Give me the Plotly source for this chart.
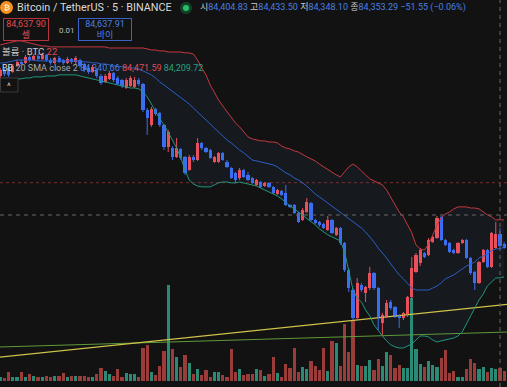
import plotly.graph_objects as go

W, H = 507, 387
FONT = "Roboto, 'Noto Sans CJK KR', sans-serif"

# ---------------- data ----------------
idx = list(range(121))

opens = [
    85118, 85145, 85154, 85136, 85163, 85181, 85177, 85204, 85190, 85208,
    85195, 85213, 85190, 85177, 85199, 85190, 85177, 85195, 85181, 85190,
    85172, 85154, 85136, 85145, 85118, 85091, 85105, 85132, 85109, 85100,
    85064, 85073, 85069, 85100, 85082, 84965, 84898, 84970, 84952, 84898,
    84799, 84794, 84754, 84790, 84754, 84695, 84754, 84740, 84817, 84794,
    84785, 84731, 84731, 84772, 84731, 84704, 84682, 84659, 84695, 84673,
    84659, 84628, 84641, 84623, 84637, 84619, 84587, 84601, 84592, 84538,
    84538, 84502, 84470, 84506, 84547, 84470, 84461, 84452, 84425, 84470,
    84403, 84434, 84367, 84245, 84155, 84029, 84178, 84142, 84164, 84232,
    84164, 84007, 84034, 84101, 84079, 84043, 84029, 84043, 84124, 84236,
    84277, 84322, 84313, 84371, 84389, 84484, 84380, 84367, 84335, 84322,
    84367, 84380, 84299, 84236, 84187, 84281, 84335, 84259, 84344, 84404.83,
    84362]
highs = [
    85154, 85154, 85163, 85172, 85190, 85190, 85213, 85213, 85217, 85217,
    85222, 85217, 85199, 85204, 85208, 85195, 85204, 85199, 85208, 85195,
    85177, 85163, 85168, 85154, 85127, 85127, 85141, 85136, 85118, 85105,
    85109, 85118, 85114, 85109, 85087, 84974, 84979, 84974, 84956, 84902,
    84875, 84803, 84839, 84794, 84758, 84763, 84763, 84839, 84821, 84799,
    84790, 84758, 84776, 84776, 84740, 84709, 84686, 84704, 84700, 84686,
    84664, 84655, 84646, 84641, 84641, 84623, 84610, 84605, 84628, 84542,
    84542, 84506, 84524, 84569, 84551, 84475, 84466, 84457, 84488, 84475,
    84439, 84439, 84371, 84254, 84164, 84209, 84187, 84173, 84259, 84236,
    84169, 84052, 84110, 84110, 84083, 84047, 84056, 84128, 84304, 84322,
    84344, 84326, 84389, 84398, 84488, 84488, 84385, 84371, 84340, 84371,
    84385, 84385, 84304, 84241, 84286, 84340, 84340, 84416, 84461, 84433.50,
    84371]
lows = [
    85109, 85118, 85114, 85132, 85159, 85163, 85172, 85181, 85186, 85186,
    85190, 85181, 85168, 85172, 85177, 85168, 85172, 85172, 85172, 85154,
    85136, 85127, 85132, 85109, 85078, 85087, 85100, 85091, 85078, 85064,
    85060, 85069, 85064, 85073, 84956, 84853, 84889, 84938, 84889, 84785,
    84776, 84740, 84749, 84740, 84673, 84691, 84731, 84736, 84785, 84772,
    84745, 84727, 84727, 84736, 84704, 84655, 84637, 84650, 84659, 84646,
    84632, 84623, 84614, 84619, 84614, 84587, 84583, 84578, 84533, 84524,
    84497, 84457, 84466, 84502, 84466, 84452, 84439, 84430, 84421, 84407,
    84398, 84358, 84236, 84146, 84020, 84020, 84146, 84101, 84155, 84155,
    83975, 83953, 84029, 84065, 84029, 83984, 84020, 84034, 84115, 84232,
    84263, 84299, 84308, 84367, 84385, 84376, 84353, 84322, 84317, 84317,
    84362, 84295, 84223, 84155, 84182, 84277, 84254, 84254, 84340, 84348.10,
    84340]
closes = [
    85145, 85127, 85123, 85163, 85181, 85172, 85204, 85190, 85208, 85195,
    85213, 85190, 85177, 85199, 85181, 85177, 85195, 85181, 85199, 85163,
    85145, 85136, 85159, 85118, 85087, 85118, 85132, 85100, 85082, 85073,
    85100, 85109, 85100, 85082, 84965, 84929, 84970, 84947, 84898, 84799,
    84866, 84754, 84794, 84749, 84682, 84754, 84740, 84817, 84794, 84776,
    84749, 84754, 84772, 84740, 84709, 84659, 84650, 84695, 84664, 84650,
    84637, 84650, 84619, 84637, 84619, 84592, 84605, 84583, 84538, 84529,
    84502, 84461, 84515, 84551, 84470, 84457, 84448, 84434, 84470, 84412,
    84434, 84367, 84245, 84164, 84029, 84187, 84155, 84169, 84232, 84164,
    84029, 84043, 84097, 84074, 84034, 84029, 84052, 84124, 84254, 84313,
    84335, 84304, 84380, 84394, 84479, 84380, 84358, 84326, 84322, 84367,
    84380, 84299, 84232, 84187, 84281, 84335, 84259, 84412, 84404.84, 84353.29,
    84344]

volumes = [
    7, 5, 15, 7, 7, 15, 7, 12, 9, 7,
    7, 9, 7, 9, 9, 14, 7, 9, 9, 9,
    9, 7, 7, 12, 22, 17, 12, 9, 20, 7,
    14, 12, 12, 7, 56, 61, 15, 10, 26, 51,
    163, 54, 41, 24, 44, 31, 12, 20, 10, 19,
    7, 15, 15, 10, 7, 54, 15, 20, 10, 12,
    12, 20, 19, 9, 12, 41, 14, 7, 29, 22,
    56, 15, 24, 20, 34, 26, 19, 56, 17, 68,
    65, 26, 97, 49, 104, 27, 26, 26, 36, 19,
    37, 26, 49, 44, 22, 27, 22, 22, 141, 54,
    29, 24, 34, 27, 24, 39, 53, 14, 17, 7,
    7, 20, 37, 31, 20, 24, 15, 22, 20, 22,
    17]

bb_upper = [
    85258, 85262, 85267, 85271, 85276, 85276, 85271, 85267, 85262, 85258,
    85253, 85253, 85249, 85249, 85249, 85249, 85249, 85249, 85249, 85249,
    85249, 85249, 85249, 85249, 85249, 85249, 85244, 85244, 85244, 85244,
    85244, 85244, 85244, 85244, 85244, 85240, 85235, 85235, 85231, 85231,
    85226, 85226, 85226, 85226, 85222, 85222, 85217, 85190, 85154, 85123,
    85078, 85042, 85010, 84983, 84956, 84929, 84907, 84889, 84866, 84844,
    84835, 84830, 84826, 84826, 84821, 84821, 84817, 84803, 84794, 84790,
    84781, 84776, 84763, 84754, 84745, 84736, 84722, 84709, 84695, 84682,
    84673, 84664, 84686, 84709, 84722, 84709, 84691, 84673, 84655, 84646,
    84637, 84628, 84605, 84574, 84538, 84506, 84484, 84448, 84412, 84358,
    84340, 84335, 84362, 84403, 84448, 84479, 84497, 84506, 84520, 84529,
    84529, 84529, 84524, 84524, 84520, 84506, 84493, 84484, 84470, 84471.59,
    84470]
bb_basis = [
    85177, 85177, 85181, 85186, 85190, 85190, 85190, 85190, 85190, 85186,
    85186, 85186, 85186, 85186, 85186, 85186, 85186, 85186, 85186, 85186,
    85181, 85181, 85177, 85177, 85172, 85172, 85168, 85163, 85163, 85159,
    85159, 85154, 85154, 85150, 85141, 85132, 85123, 85109, 85091, 85078,
    85064, 85046, 85033, 85019, 85006, 84992, 84974, 84956, 84934, 84916,
    84898, 84880, 84862, 84844, 84830, 84817, 84799, 84785, 84772, 84754,
    84740, 84736, 84731, 84727, 84722, 84718, 84709, 84695, 84682, 84673,
    84659, 84650, 84637, 84623, 84605, 84587, 84574, 84560, 84547, 84533,
    84520, 84506, 84493, 84475, 84461, 84448, 84434, 84416, 84394, 84371,
    84344, 84322, 84299, 84272, 84245, 84223, 84205, 84182, 84164, 84155,
    84155, 84155, 84155, 84164, 84173, 84187, 84205, 84214, 84223, 84236,
    84250, 84263, 84272, 84281, 84299, 84308, 84317, 84331, 84340, 84340.66,
    84349]
bb_lower = [
    85091, 85096, 85100, 85100, 85105, 85105, 85109, 85109, 85114, 85114,
    85114, 85118, 85118, 85118, 85123, 85123, 85123, 85123, 85123, 85118,
    85114, 85109, 85105, 85100, 85096, 85091, 85087, 85082, 85078, 85073,
    85069, 85064, 85064, 85060, 85046, 85024, 84992, 84956, 84925, 84898,
    84866, 84830, 84794, 84749, 84695, 84650, 84632, 84623, 84619, 84619,
    84619, 84628, 84637, 84641, 84641, 84637, 84637, 84641, 84637, 84632,
    84628, 84623, 84614, 84605, 84596, 84587, 84578, 84565, 84547, 84533,
    84520, 84506, 84488, 84475, 84461, 84448, 84430, 84416, 84403, 84394,
    84385, 84376, 84326, 84245, 84155, 84119, 84101, 84065, 84038, 83998,
    83971, 83948, 83926, 83908, 83899, 83894, 83894, 83903, 83912, 83930,
    83948, 83948, 83944, 83930, 83921, 83926, 83930, 83935, 83939, 83948,
    83966, 84002, 84038, 84074, 84110, 84137, 84173, 84191, 84209, 84209.72,
    84214]

trend_x = [-1, 121]
trend_yellow = [83851, 84091]
trend_green = [83898, 83966]

price_line = 84637.90
cross_price = 84492.5
cross_idx = 119

# ---------------- style ----------------
BG = "#121212"
UP = "#e8505b"
DOWN = "#3b6ef0"
VOL_UP = "#2a8a75"
VOL_DOWN = "#9a3c3a"
PRICE_RANGE = [83718.5, 85460]

is_up = [c >= o for o, c in zip(opens, closes)]
body_base = [min(o, c) for o, c in zip(opens, closes)]
body_h = [max(abs(c - o), 3) for o, c in zip(opens, closes)]
body_col = [UP if u else DOWN for u in is_up]
vol_col = [VOL_UP if u else VOL_DOWN for u in is_up]

fig = go.Figure()

# band fill (base layer)
fig.add_trace(go.Scatter(x=idx, y=bb_upper, mode="lines", line=dict(width=0),
                         hoverinfo="skip", yaxis="y"))
fig.add_trace(go.Scatter(x=idx, y=bb_lower, mode="lines", line=dict(width=0),
                         fill="tonexty", fillcolor="rgba(70,100,150,0.09)",
                         hoverinfo="skip", yaxis="y"))

# volume
fig.add_trace(go.Bar(x=idx, y=volumes, marker=dict(color=vol_col, line=dict(width=0)),
                     width=0.76, yaxis="y2", hoverinfo="skip"))

# trend lines
fig.add_trace(go.Scatter(x=trend_x, y=trend_green, mode="lines",
                         line=dict(color="#5f9a3a", width=1), yaxis="y3", hoverinfo="skip"))
fig.add_trace(go.Scatter(x=trend_x, y=trend_yellow, mode="lines",
                         line=dict(color="#cfc24a", width=1.4), yaxis="y3", hoverinfo="skip"))

# candle bodies
fig.add_trace(go.Bar(x=idx, y=body_h, base=body_base,
                     marker=dict(color=body_col, line=dict(width=0)),
                     width=0.72, yaxis="y3", hoverinfo="skip"))

# wicks
for up_flag, col in ((True, UP), (False, DOWN)):
    wx, wy = [], []
    for i, u in enumerate(is_up):
        if u == up_flag:
            wx += [idx[i], idx[i], None]
            wy += [lows[i], highs[i], None]
    fig.add_trace(go.Scatter(x=wx, y=wy, mode="lines", line=dict(color=col, width=1),
                             yaxis="y3", hoverinfo="skip"))

# bollinger lines
fig.add_trace(go.Scatter(x=idx, y=bb_upper, mode="lines", line=dict(color="#c2393f", width=1),
                         yaxis="y3", hoverinfo="skip"))
fig.add_trace(go.Scatter(x=idx, y=bb_basis, mode="lines", line=dict(color="#2b5fc4", width=1),
                         yaxis="y3", hoverinfo="skip"))
fig.add_trace(go.Scatter(x=idx, y=bb_lower, mode="lines", line=dict(color="#21967a", width=1),
                         yaxis="y3", hoverinfo="skip"))

shapes = [
    dict(type="line", xref="paper", x0=0, x1=1, yref="y3", y0=price_line, y1=price_line,
         line=dict(color="#7a2c2c", width=1, dash="dot"), layer="below"),
    dict(type="line", xref="paper", x0=0, x1=1, yref="y3", y0=cross_price, y1=cross_price,
         line=dict(color="#686868", width=1, dash="4px,4px"), layer="above"),
    dict(type="line", xref="x", x0=cross_idx, x1=cross_idx, yref="paper", y0=0, y1=1,
         line=dict(color="#686868", width=1, dash="4px,4px"), layer="above"),
]


def px(x):
    return x / W


def py(y):
    return 1 - y / H


# bitcoin icon + status dot + collapse button
shapes += [
    dict(type="circle", xref="paper", yref="paper", x0=px(0), x1=px(13), y0=py(14), y1=py(1),
         fillcolor="#f7931a", line=dict(width=0), layer="above"),
    dict(type="circle", xref="paper", yref="paper", x0=px(180), x1=px(192), y0=py(14), y1=py(2),
         fillcolor="#15402a", line=dict(width=0), layer="above"),
    dict(type="circle", xref="paper", yref="paper", x0=px(183), x1=px(189), y0=py(11), y1=py(5),
         fillcolor="#26c06a", line=dict(width=0), layer="above"),
    dict(type="rect", xref="paper", yref="paper", x0=px(0.5), x1=px(18), y0=py(92), y1=py(78),
         fillcolor=BG, line=dict(color="#3a3a3a", width=1), layer="above"),
]

BLUE_T = "#4a7fe0"
RED_T = "#e04a52"
GREEN_T = "#2aa080"
LAB = "#c9c9c9"


def ann(x, y, text, size, color, xanchor="left", **kw):
    d = dict(x=px(x), y=py(y), xref="paper", yref="paper", text=text, showarrow=False,
             xanchor=xanchor, yanchor="middle",
             font=dict(size=size, color=color, family=FONT))
    d.update(kw)
    return d


def c(t, col):
    return f"<span style='color:{col}'>{t}</span>"


annotations = [
    ann(6.5, 8, "₿", 8, "#ffffff", xanchor="center"),
    ann(15, 8, "Bitcoin / TetherUS · 5 · BINANCE", 10.8, "#d9d9d9"),
    ann(198, 8, "시" + c("84,404.83", BLUE_T) + " 고" + c("84,433.50", BLUE_T)
        + " 저" + c("84,348.10", BLUE_T) + " 종" + c("84,353.29", BLUE_T)
        + " " + c("−51.55 (−0.06%)", BLUE_T), 9, LAB),
    ann(25.5, 29.5, "84,637.90<br>셀", 9, RED_T, xanchor="center",
        bordercolor="#b8343c", borderwidth=1, borderpad=1, width=42, height=19,
        bgcolor=BG, align="center"),
    ann(66.5, 31, "0.01", 8, "#bdbdbd", xanchor="center"),
    ann(104.5, 29.5, "84,637.91<br>바이", 9, BLUE_T, xanchor="center",
        bordercolor="#3a62c8", borderwidth=1, borderpad=1, width=50, height=19,
        bgcolor=BG, align="center"),
    ann(0, 52, "볼륨 · BTC " + c("22", RED_T), 9.5, LAB),
    ann(0, 68, c("BB", "#dddddd") + " 20 SMA close 2 " + c("84,340.66", BLUE_T) + " "
        + c("84,471.59", RED_T) + " " + c("84,209.72", GREEN_T), 9, "#a9a9a9"),
    ann(9, 86, "^", 9, "#cfcfcf", xanchor="center"),
]

fig.update_layout(
    width=W, height=H, margin=dict(l=0, r=0, t=0, b=0),
    paper_bgcolor=BG, plot_bgcolor=BG, showlegend=False,
    barmode="overlay", bargap=0, hovermode=False,
    xaxis=dict(range=[-0.05, 120.67], visible=False, fixedrange=True),
    yaxis=dict(range=PRICE_RANGE, visible=False, fixedrange=True),
    yaxis2=dict(range=[-10.2, 647.7], overlaying="y", visible=False, fixedrange=True),
    yaxis3=dict(range=PRICE_RANGE, overlaying="y", visible=False, fixedrange=True),
    shapes=shapes, annotations=annotations,
)

fig.write_html(
    "out.html",
    config={"displayModeBar": False, "staticPlot": True},
    post_script="document.body.style.margin='0';document.body.style.overflow='hidden';"
                "document.body.style.background='" + BG + "';",
)
